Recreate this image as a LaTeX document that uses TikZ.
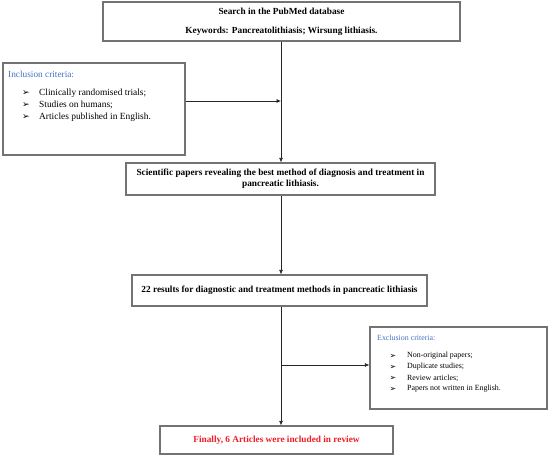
\documentclass[tikz,border=0pt]{standalone}
\usepackage{fontspec}
\setmainfont{Liberation Serif}
\newfontfamily\symfont{DejaVu Sans}
\usetikzlibrary{arrows.meta}
\definecolor{critblue}{HTML}{4472C4}
\definecolor{finalred}{HTML}{EE1C25}
\begin{document}
\begin{tikzpicture}[x=1pt,y=-1pt,
  box/.style={draw=black!55,line width=1.1pt,inner sep=0pt},
  arr/.style={draw=black!85,line width=0.7pt,-{Latex[length=4.5pt,width=4pt]}},
  ttl/.style={font=\fontsize{9.3}{11}\selectfont\bfseries,align=center},
  crit/.style={text=critblue,font=\fontsize{9.3}{10}\selectfont,anchor=west,inner sep=0pt},
  crits/.style={text=critblue,font=\fontsize{7.9}{9}\selectfont,anchor=west,inner sep=0pt},
  bul/.style={font=\symfont\fontsize{9}{10}\selectfont,inner sep=0pt},
  buls/.style={font=\symfont\fontsize{8}{9}\selectfont,inner sep=0pt},
  itm/.style={font=\fontsize{9.4}{10}\selectfont,anchor=west,inner sep=0pt},
  itms/.style={font=\fontsize{7.9}{9}\selectfont,anchor=west,inner sep=0pt}]
\useasboundingbox (0,0) rectangle (550,457);
% boxes
\node[box,ttl,minimum width=357pt,minimum height=39pt] (search) at (281.5,21.5)
  {Search in the PubMed database\\[8pt]Keywords: Pancreatolithiasis; Wirsung lithiasis.};
\node[box,minimum width=182pt,minimum height=92pt] (incl) at (94,109) {};
\node[box,ttl,minimum width=309pt,minimum height=32pt] (sci) at (280.5,179)
  {Scientific papers revealing the best method of diagnosis and treatment in\\pancreatic lithiasis.};
\node[box,ttl,minimum width=295pt,minimum height=31pt] (res) at (279.5,290.5)
  {22 results for diagnostic and treatment methods in pancreatic lithiasis};
\node[box,minimum width=177pt,minimum height=82pt] (excl) at (458.5,368) {};
\node[box,ttl,text=finalred,minimum width=233pt,minimum height=28pt] (final) at (276.5,440)
  {Finally, 6 Articles were included in review};
% inclusion text
\node[crit] (incltitle) at (8,74) {Inclusion criteria:};
\node[bul] (ib1) at (26,93) {\char"27A2};
\node[bul] (ib2) at (26,105) {\char"27A2};
\node[bul] (ib3) at (26,117) {\char"27A2};
\node[itm] (it1) at (39,93) {Clinically randomised trials;};
\node[itm] (it2) at (39,105) {Studies on humans;};
\node[itm] (it3) at (39,117) {Articles published in English.};
% exclusion text
\node[crits] (excltitle) at (377,338) {Exclusion criteria:};
\node[buls] (eb1) at (393,356) {\char"27A2};
\node[buls] (eb2) at (393,367) {\char"27A2};
\node[buls] (eb3) at (393,378) {\char"27A2};
\node[buls] (eb4) at (393,389) {\char"27A2};
\node[itms] (et1) at (407,356) {Non-original papers;};
\node[itms] (et2) at (407,367) {Duplicate studies;};
\node[itms] (et3) at (407,378) {Review articles;};
\node[itms] (et4) at (407,389) {Papers not written in English.};
% connectors
\coordinate (j1) at (281,101);
\coordinate (j2) at (281,365);
\draw[arr] (281,0 |- search.south) -- (281,0 |- sci.north);
\draw[arr] (incl.east |- j1) -- (j1);
\draw[arr] (281,0 |- sci.south) -- (281,0 |- res.north);
\draw[arr] (281,0 |- res.south) -- (281,0 |- final.north);
\draw[arr] (j2) -- (excl.west |- j2);
\end{tikzpicture}
\end{document}
